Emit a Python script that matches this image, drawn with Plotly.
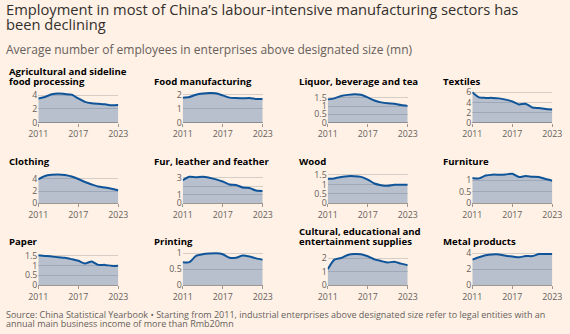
import plotly.graph_objects as go

W, H = 570, 334

years = list(range(2011, 2024))

panel_titles = [
    ["Agricultural and sideline", "food processing"],
    ["Food manufacturing"],
    ["Liquor, beverage and tea"],
    ["Textiles"],
    ["Clothing"],
    ["Fur, leather and feather"],
    ["Wood"],
    ["Furniture"],
    ["Paper"],
    ["Printing"],
    ["Cultural, educational and", "entertainment supplies"],
    ["Metal products"],
]

agri = [3.5, 3.72, 4.1, 4.23, 4.14, 4.05, 3.5, 3.0, 2.8, 2.72, 2.65, 2.52, 2.56]
food = [1.79, 1.83, 2.0, 2.08, 2.12, 2.1, 1.95, 1.79, 1.76, 1.74, 1.76, 1.69, 1.69]
liquor = [1.40, 1.46, 1.60, 1.67, 1.71, 1.68, 1.52, 1.33, 1.22, 1.16, 1.14, 1.06, 1.01]
textiles = [6.0, 5.0, 4.9, 4.9, 4.8, 4.55, 4.2, 3.6, 3.75, 3.0, 2.9, 2.7, 2.6]
clothing = [3.93, 4.5, 4.68, 4.75, 4.65, 4.4, 4.0, 3.5, 3.1, 2.75, 2.6, 2.4, 2.15]
fur = [2.7, 3.1, 3.05, 3.1, 3.0, 2.8, 2.55, 2.2, 2.15, 1.85, 1.8, 1.5, 1.45]
wood = [1.3, 1.32, 1.39, 1.44, 1.44, 1.4, 1.26, 1.05, 0.96, 0.93, 0.98, 0.98, 0.98]
furniture = [1.09, 1.07, 1.19, 1.23, 1.23, 1.24, 1.27, 1.13, 1.17, 1.14, 1.13, 1.04, 0.97]
paper = [1.52, 1.49, 1.46, 1.42, 1.39, 1.32, 1.24, 1.1, 1.2, 1.03, 1.03, 0.98, 0.98]
printing = [0.72, 0.72, 0.92, 0.97, 0.99, 1.0, 0.97, 0.86, 0.86, 0.93, 0.9, 0.84, 0.8]
cultural = [1.18, 1.9, 2.02, 2.25, 2.32, 2.3, 2.15, 1.92, 1.8, 1.68, 1.75, 1.6, 1.48]
metal = [3.2, 3.5, 3.75, 3.85, 3.85, 3.7, 3.6, 3.5, 3.65, 3.65, 3.9, 3.9, 3.9]

series = [agri, food, liquor, textiles, clothing, fur, wood, furniture,
          paper, printing, cultural, metal]

ytickvals = [
    [0, 2, 4], [0, 1, 2], [0, 0.5, 1, 1.5], [0, 2, 4, 6],
    [0, 2, 4], [0, 1, 2, 3], [0, 0.5, 1, 1.5], [0, 0.5, 1],
    [0, 0.5, 1, 1.5], [0, 0.5, 1], [0, 1, 2], [0, 2, 4],
]
yticktext = [
    ["0", "2", "4"], ["0", "1", "2"], ["0", "0.5", "1", "1.5"], ["0", "2", "4", "6"],
    ["0", "2", "4"], ["0", "1", "", "3"], ["0", "0.5", "1", "1.5"], ["0", "0.5", "1"],
    ["0", "0.5", "1", "1.5"], ["0", "0.5", "1"], ["0", "1", "2"], ["0", "2", "4"],
]
xtickvals = [2011, 2017, 2023]

# ---- layout geometry (pixels) ----
col_left = [38.3, 182.7, 327.7, 472.3]
plot_w = 80
row_base = [122.7, 203.3, 285.0]
top_tick_px = [95.0, 94.7, 97.7, 92.3,
               179.0, 177.7, 175.0, 180.0,
               255.7, 253.3, 258.3, 253.3]
row_title_y = [81.7, 161.7, 241.7]   # centre of the last title line
title_lh = 9.8

LINE = "#0F5499"
FILL = "rgba(52,101,160,0.35)"
GRID = "#D6CEC6"
TXT = "#33302E"
SUB = "#66605C"
FONT = "Open Sans"

fig = go.Figure()
layout = dict(
    template="none",
    width=W, height=H,
    margin=dict(l=0, r=0, t=0, b=0, pad=0, autoexpand=False),
    paper_bgcolor="#FFF1E5",
    plot_bgcolor="rgba(0,0,0,0)",
    showlegend=False,
    font=dict(family=FONT, color=SUB),
)
annotations = []


def txt(text, x, y, size, color, bold=False):
    return dict(
        text=("<b>%s</b>" % text) if bold else text,
        x=x / W, y=1 - y / H, xref="paper", yref="paper",
        xanchor="left", yanchor="middle", align="left", showarrow=False,
        font=dict(size=size, color=color, family=FONT),
    )


for i, vals in enumerate(series):
    r, c = divmod(i, 4)
    n = "" if i == 0 else str(i + 1)
    fig.add_trace(go.Scatter(
        x=years, y=vals, mode="lines",
        line=dict(color=LINE, width=2, shape="spline", smoothing=0.6),
        fill="tozeroy", fillcolor=FILL,
        xaxis="x" + n, yaxis="y" + n, hoverinfo="skip",
    ))
    base = row_base[r]
    top_val = ytickvals[i][-1]
    ppu = (base - top_tick_px[i]) / top_val
    R = max(max(vals), top_val) * 1.08
    top_px = base - R * ppu
    x0 = col_left[c]
    x1 = x0 + plot_w
    layout["xaxis" + n] = dict(
        domain=[x0 / W, x1 / W], range=[2011, 2023],
        tickvals=xtickvals, ticks="outside", ticklen=3, tickcolor="#A09890",
        showgrid=False, zeroline=False, showline=False, automargin=False,
        tickfont=dict(size=8.8, color=SUB, family=FONT),
        anchor="y" + n, fixedrange=True,
    )
    layout["yaxis" + n] = dict(
        domain=[1 - base / H, 1 - top_px / H], range=[0, R],
        tickvals=ytickvals[i], ticktext=yticktext[i],
        showgrid=True, gridcolor=GRID, gridwidth=1,
        zeroline=True, zerolinecolor="#A09890", zerolinewidth=1,
        ticks="", showline=False, automargin=False,
        tickfont=dict(size=8.8, color=SUB, family=FONT),
        anchor="x" + n, fixedrange=True,
    )
    lines = panel_titles[i]
    for k, line in enumerate(lines):
        y = row_title_y[r] - (len(lines) - 1 - k) * title_lh
        annotations.append(txt(line, x0 - 31, y, 9.6, "#000000", bold=True))

annotations += [
    txt("Employment in most of China\u2019s labour-intensive manufacturing sectors has",
        4, 9, 14.7, TXT),
    txt("been declining", 4, 24, 14.7, TXT),
    txt("Average number of employees in enterprises above designated size (mn)",
        4, 50, 12, SUB),
    txt("Source: China Statistical Yearbook \u2022 Starting from 2011, industrial enterprises above designated size refer to legal entities with an",
        4, 314.5, 9, SUB),
    txt("annual main business income of more than Rmb20mn", 4, 323.5, 9, SUB),
]
layout["annotations"] = annotations
fig.update_layout(**layout)
fig.write_html("out.html", config={"displayModeBar": False})
